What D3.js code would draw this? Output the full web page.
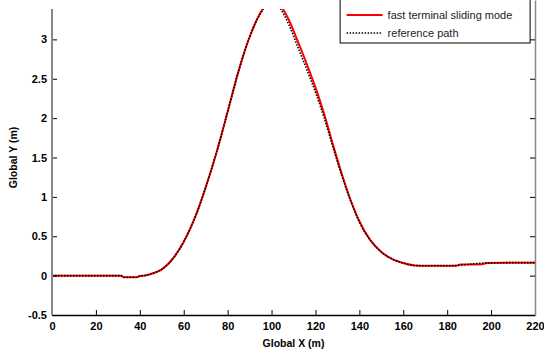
<!DOCTYPE html>
<html>
<head>
<meta charset="utf-8">
<script src="https://cdn.jsdelivr.net/npm/d3@7"></script>
<style>
  body { margin: 0; background: #fff; }
  text { font-family: "Liberation Sans", Arial, sans-serif; }
</style>
</head>
<body>
<div id="chart"></div>
<script>
// reference path (black dotted)
const refX = [0, 31.5, 32.5, 38.5, 40, 42, 45, 48, 50, 53, 56, 60, 63, 66, 70, 75, 80, 85, 90, 95, 100,
  104, 108, 112, 116, 120, 124, 128, 132, 136, 140, 145, 150, 155, 160, 165, 170, 180, 185, 190, 198, 210, 220];
const refY = [0, 0, -0.02, -0.02, -0.005, 0, 0.02, 0.05, 0.08, 0.15, 0.25, 0.43, 0.6, 0.8, 1.12, 1.57, 2.08, 2.6, 3.03, 3.33, 3.48,
  3.39, 3.18, 2.9, 2.62, 2.33, 2.0, 1.63, 1.27, 0.95, 0.68, 0.45, 0.3, 0.21, 0.16, 0.13, 0.125, 0.125, 0.13, 0.145, 0.16, 0.165, 0.165];

// fast terminal sliding mode (red)
const ftsmX = [0, 31.5, 32.5, 38.5, 40, 42, 45, 48, 50, 53, 56, 60, 63, 66, 70, 75, 80, 85, 90, 95, 100,
  104, 108, 112, 116, 120, 124, 128, 132, 136, 140, 145, 150, 155, 160, 165, 170, 180, 184, 186, 196, 198, 210, 220];
const ftsmY = [0, 0, -0.02, -0.02, -0.005, 0, 0.02, 0.05, 0.08, 0.15, 0.25, 0.43, 0.6, 0.8, 1.12, 1.57, 2.08, 2.6, 3.03, 3.34, 3.5,
  3.43, 3.24, 2.97, 2.69, 2.39, 2.05, 1.66, 1.29, 0.96, 0.69, 0.45, 0.3, 0.21, 0.16, 0.13, 0.125, 0.125, 0.125, 0.14, 0.145, 0.16, 0.165, 0.165];

const xTicks = [0, 20, 40, 60, 80, 100, 120, 140, 160, 180, 200, 220];
const yTicks = [-0.5, 0, 0.5, 1, 1.5, 2, 2.5, 3];
const legendLabels = ["fast terminal sliding mode", "reference path"];

const margin = { top: 0, right: 9, bottom: 38, left: 52 },
  width = 544 - margin.left - margin.right,
  height = 353 - margin.top - margin.bottom;

const svg = d3
  .select("#chart")
  .append("svg")
  .attr("width", 544)
  .attr("height", 353)
  .append("g")
  .attr("transform", `translate(${margin.left},${margin.top})`);

const x = d3.scaleLinear().domain([0, 220]).range([0, width]);
const y = d3.scaleLinear().domain([-0.5, 3.5]).range([height, 0]);

// clip the curves (top of the figure is cut off a bit)
svg.append("clipPath").attr("id", "clip")
  .append("rect").attr("x", 0).attr("y", 9).attr("width", width).attr("height", height - 9);

const line = d3.line()
  .x((d) => x(d[0]))
  .y((d) => y(d[1]))
  .curve(d3.curveMonotoneX);

const ftsm = ftsmX.map((v, i) => [v, ftsmY[i]]);
const ref = refX.map((v, i) => [v, refY[i]]);

const curves = svg.append("g").attr("clip-path", "url(#clip)");
curves.append("path")
  .datum(ftsm)
  .attr("fill", "none")
  .attr("stroke", "#ff0000")
  .attr("stroke-width", 2)
  .attr("d", line);
curves.append("path")
  .datum(ref)
  .attr("fill", "none")
  .attr("stroke", "#000")
  .attr("stroke-width", 1.6)
  .attr("stroke-dasharray", "1.5,1.5")
  .attr("d", line);

// X axis (ticks pointing inward)
const gx = svg.append("g")
  .attr("transform", `translate(0,${height})`)
  .call(d3.axisBottom(x).tickValues(xTicks).tickFormat(d3.format("d")).tickSizeInner(-5).tickSizeOuter(0).tickPadding(7));
gx.select(".domain").attr("stroke", "#000").attr("stroke-width", 1.5);
gx.selectAll(".tick line").attr("stroke", "#000");
gx.selectAll(".tick text")
  .attr("font-size", 11).attr("font-weight", "bold").attr("fill", "#000")
  .attr("font-family", "Liberation Sans, Arial, sans-serif");

// Y axis
const gy = svg.append("g")
  .call(d3.axisLeft(y).tickValues(yTicks).tickFormat((d) => String(d)).tickSizeInner(-5).tickSizeOuter(0).tickPadding(5));
gy.select(".domain").remove();
gy.append("line")
  .attr("x1", 0).attr("x2", 0).attr("y1", 9).attr("y2", height)
  .attr("stroke", "#888").attr("stroke-width", 2);
gy.selectAll(".tick line").attr("stroke", "#000");
gy.selectAll(".tick text")
  .attr("font-size", 11).attr("font-weight", "bold").attr("fill", "#000")
  .attr("font-family", "Liberation Sans, Arial, sans-serif");

// right axis
const gr = svg.append("g")
  .attr("transform", `translate(${width},0)`)
  .call(d3.axisRight(y).tickValues(yTicks).tickFormat("").tickSizeInner(-5).tickSizeOuter(0));
gr.select(".domain").attr("stroke", "#888").attr("stroke-width", 1.5);
gr.selectAll(".tick line").attr("stroke", "#000");

// axis titles
svg.append("text")
  .attr("x", width / 2)
  .attr("y", height + 32)
  .attr("text-anchor", "middle")
  .attr("font-size", 10.5)
  .attr("font-weight", "bold")
  .text("Global X (m)");

svg.append("text")
  .attr("transform", `translate(${-margin.left + 17},${height / 2}) rotate(-90)`)
  .attr("text-anchor", "middle")
  .attr("font-size", 10.5)
  .attr("font-weight", "bold")
  .text("Global Y (m)");

// legend
const legend = svg.append("g").attr("transform", `translate(${x(131)},0)`);
legend.append("rect")
  .attr("x", 0.5).attr("y", -1).attr("width", 190).attr("height", 44)
  .attr("fill", "#fff").attr("stroke", "#000").attr("stroke-width", 1);
const styles = [
  { stroke: "#ff0000", width: 2, dash: null },
  { stroke: "#000", width: 1.6, dash: "1.5,1.5" }
];
legendLabels.forEach((label, i) => {
  const yy = 15 + i * 18;
  legend.append("line")
    .attr("x1", 7).attr("x2", 43).attr("y1", yy).attr("y2", yy)
    .attr("stroke", styles[i].stroke)
    .attr("stroke-width", styles[i].width)
    .attr("stroke-dasharray", styles[i].dash);
  legend.append("text")
    .attr("x", 48).attr("y", yy + 4)
    .attr("font-size", 11)
    .attr("fill", "#222")
    .text(label);
});
</script>
</body>
</html>
